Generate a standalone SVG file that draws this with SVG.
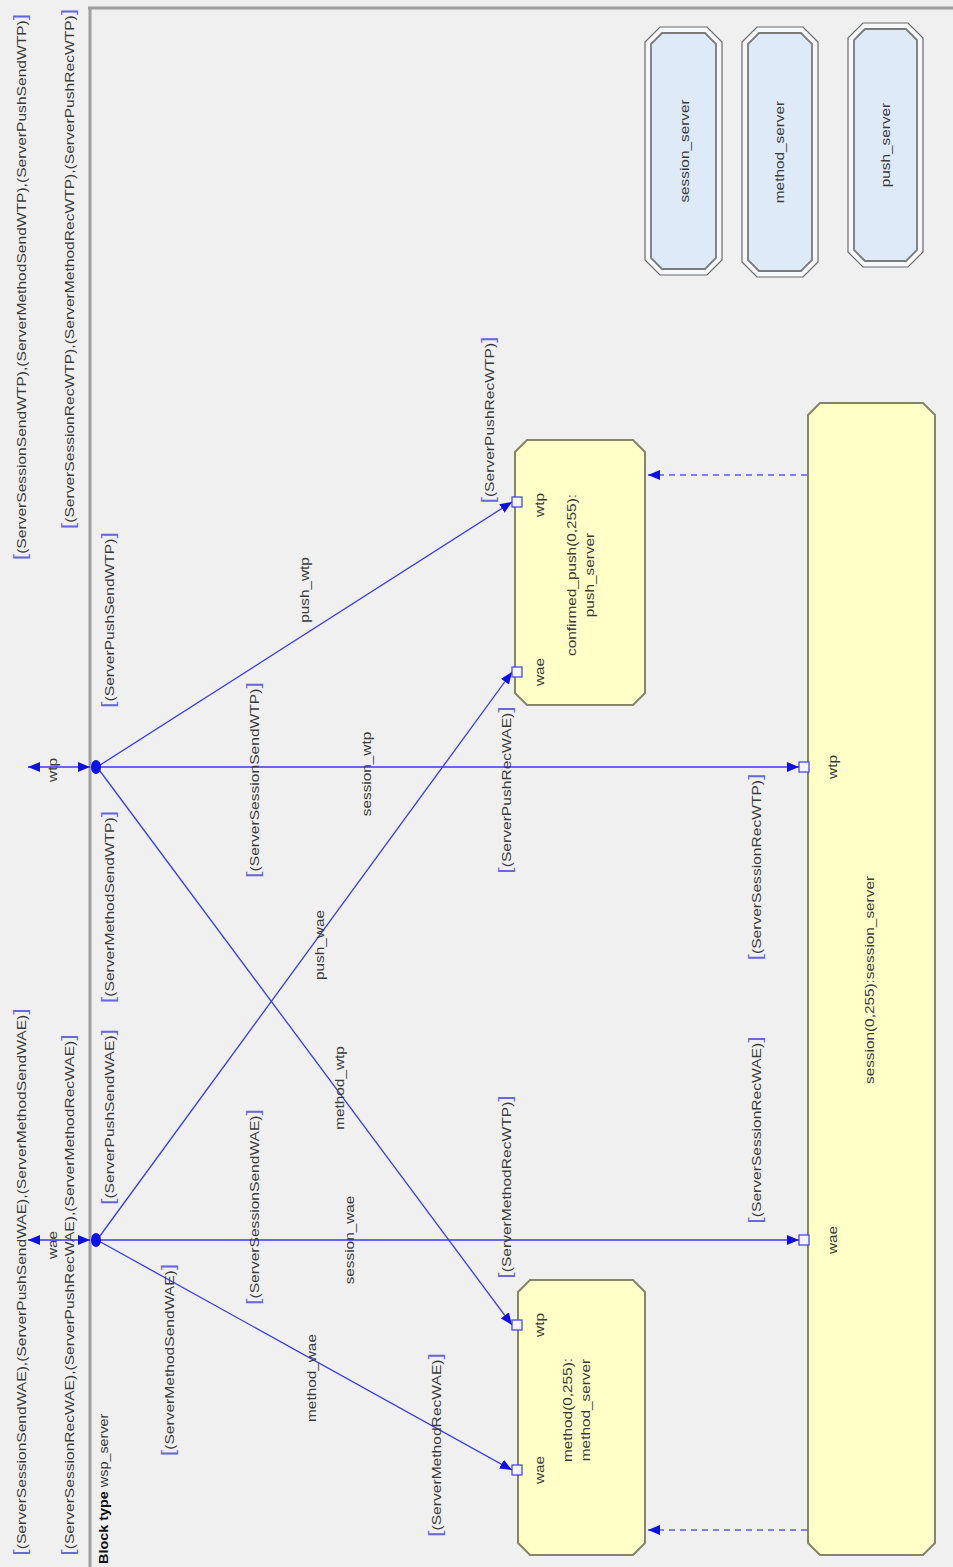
<svg xmlns="http://www.w3.org/2000/svg" width="953" height="1567" viewBox="0 0 953 1567">
<style>
  text { font-family: "Liberation Sans", Arial, sans-serif; font-size: 12px; fill: #3a3a3a; }
  .br { fill: #6868d8; font-size: 18px; }
  .bold { font-weight: bold; fill: #111; }
  .frame { stroke: #a0a0a0; stroke-width: 3; fill: none; }
  .ch { stroke: #3a3af0; stroke-width: 1.3; fill: none; }
  .create { stroke: #5a5af0; stroke-width: 1.5; stroke-dasharray: 6 5; fill: none; }
  .blk { fill: #ffffc8; stroke: #85856a; stroke-width: 2; }
  .ref-out { fill: #f6f8fb; stroke: #6a6a6a; stroke-width: 1.2; }
  .ref-in { fill: #dfeaf9; stroke: #7a7a7a; stroke-width: 1.8; }
  .port { fill: #f4f4ff; stroke: #3a3af0; stroke-width: 1.2; }
  .dot { fill: #1010e8; }
</style>
<defs>
  <marker id="arr" viewBox="0 0 12 10" refX="12" refY="5" markerWidth="12" markerHeight="10" markerUnits="userSpaceOnUse" orient="auto-start-reverse">
    <path d="M0,0 L12,5 L0,10 Z" fill="#1010e0"/>
  </marker>
</defs>
<rect x="0" y="0" width="953" height="1567" fill="#f0f0f0"/>

<!-- drawing is laid out sideways: u runs along the block, v across it -->
<g transform="matrix(0 -1 1 0 0 1567)">

  <!-- block frame -->
  <g id="frame">
    <line class="frame" x1="-5" y1="90" x2="1559" y2="90"/>
    <line class="frame" x1="1559" y1="88" x2="1559" y2="960"/>
    <text transform="translate(3 108) scale(1.2 1)"><tspan class="bold">Block type</tspan> wsp_server</text>
  </g>

  <!-- gate signal lists outside the frame -->
  <g id="gate-labels">
    <text transform="translate(1280 26) scale(1.3 1)" text-anchor="middle"><tspan class="br">[</tspan>(ServerSessionSendWTP),(ServerMethodSendWTP),(ServerPushSendWTP)<tspan class="br">]</tspan></text>
    <text transform="translate(1298 74) scale(1.3 1)" text-anchor="middle"><tspan class="br">[</tspan>(ServerSessionRecWTP),(ServerMethodRecWTP),(ServerPushRecWTP)<tspan class="br">]</tspan></text>
    <text transform="translate(285 26) scale(1.3 1)" text-anchor="middle"><tspan class="br">[</tspan>(ServerSessionSendWAE),(ServerPushSendWAE),(ServerMethodSendWAE)<tspan class="br">]</tspan></text>
    <text transform="translate(272 74) scale(1.3 1)" text-anchor="middle"><tspan class="br">[</tspan>(ServerSessionRecWAE),(ServerPushRecWAE),(ServerMethodRecWAE)<tspan class="br">]</tspan></text>
    <text transform="translate(797 57) scale(1.28 1)" text-anchor="middle">wtp</text>
    <text transform="translate(322 57) scale(1.28 1)" text-anchor="middle">wae</text>
  </g>

  <!-- channels -->
  <g id="connectors">
    <line class="ch" x1="800" y1="28" x2="800" y2="90" marker-start="url(#arr)" marker-end="url(#arr)"/>
    <line class="ch" x1="327" y1="28" x2="327" y2="90" marker-start="url(#arr)" marker-end="url(#arr)"/>
    <line class="ch" x1="800" y1="97" x2="800" y2="799" marker-end="url(#arr)"/>
    <line class="ch" x1="327" y1="97" x2="327" y2="799" marker-end="url(#arr)"/>
    <line class="ch" x1="800" y1="97" x2="1065" y2="512" marker-end="url(#arr)"/>
    <line class="ch" x1="327" y1="97" x2="895" y2="512" marker-end="url(#arr)"/>
    <line class="ch" x1="800" y1="97" x2="242" y2="512" marker-end="url(#arr)"/>
    <line class="ch" x1="327" y1="97" x2="97" y2="512" marker-end="url(#arr)"/>
    <ellipse class="dot" cx="800" cy="96" rx="7" ry="5"/>
    <ellipse class="dot" cx="327" cy="96" rx="7" ry="5"/>
    <line class="create" x1="1092" y1="807" x2="1092" y2="648" marker-end="url(#arr)"/>
    <line class="create" x1="37" y1="807" x2="37" y2="648" marker-end="url(#arr)"/>

    <!-- channel names -->
    <text transform="translate(977 309) scale(1.28 1)" text-anchor="middle">push_wtp</text>
    <text transform="translate(793 371) scale(1.28 1)" text-anchor="middle">session_wtp</text>
    <text transform="translate(622 324) scale(1.28 1)" text-anchor="middle">push_wae</text>
    <text transform="translate(479 344) scale(1.28 1)" text-anchor="middle">method_wtp</text>
    <text transform="translate(327 354) scale(1.28 1)" text-anchor="middle">session_wae</text>
    <text transform="translate(189 316) scale(1.28 1)" text-anchor="middle">method_wae</text>

    <!-- signal lists on channels -->
    <text transform="translate(947 114) scale(1.3 1)" text-anchor="middle"><tspan class="br">[</tspan>(ServerPushSendWTP)<tspan class="br">]</tspan></text>
    <text transform="translate(660 114) scale(1.3 1)" text-anchor="middle"><tspan class="br">[</tspan>(ServerMethodSendWTP)<tspan class="br">]</tspan></text>
    <text transform="translate(450 114) scale(1.3 1)" text-anchor="middle"><tspan class="br">[</tspan>(ServerPushSendWAE)<tspan class="br">]</tspan></text>
    <text transform="translate(207 174) scale(1.3 1)" text-anchor="middle"><tspan class="br">[</tspan>(ServerMethodSendWAE)<tspan class="br">]</tspan></text>
    <text transform="translate(787 259) scale(1.3 1)" text-anchor="middle"><tspan class="br">[</tspan>(ServerSessionSendWTP)<tspan class="br">]</tspan></text>
    <text transform="translate(360 259) scale(1.3 1)" text-anchor="middle"><tspan class="br">[</tspan>(ServerSessionSendWAE)<tspan class="br">]</tspan></text>
    <text transform="translate(700 761) scale(1.3 1)" text-anchor="middle"><tspan class="br">[</tspan>(ServerSessionRecWTP)<tspan class="br">]</tspan></text>
    <text transform="translate(437 761) scale(1.3 1)" text-anchor="middle"><tspan class="br">[</tspan>(ServerSessionRecWAE)<tspan class="br">]</tspan></text>
    <text transform="translate(122 441) scale(1.3 1)" text-anchor="middle"><tspan class="br">[</tspan>(ServerMethodRecWAE)<tspan class="br">]</tspan></text>
    <text transform="translate(380 511) scale(1.3 1)" text-anchor="middle"><tspan class="br">[</tspan>(ServerMethodRecWTP)<tspan class="br">]</tspan></text>
    <text transform="translate(777 511) scale(1.3 1)" text-anchor="middle"><tspan class="br">[</tspan>(ServerPushRecWAE)<tspan class="br">]</tspan></text>
    <text transform="translate(1147 494) scale(1.3 1)" text-anchor="middle"><tspan class="br">[</tspan>(ServerPushRecWTP)<tspan class="br">]</tspan></text>
  </g>

  <!-- block instances -->
  <g id="push_server_block">
    <path class="blk" d="M874,515 L1115,515 L1127,527 L1127,633 L1115,645 L874,645 L862,633 L862,527 Z"/>
    <rect class="port" x="1060" y="512" width="10" height="10"/>
    <rect class="port" x="890" y="512" width="10" height="10"/>
    <text transform="translate(1062 544) scale(1.28 1)" text-anchor="middle">wtp</text>
    <text transform="translate(895 544) scale(1.28 1)" text-anchor="middle">wae</text>
    <text transform="translate(992 576) scale(1.28 1)" text-anchor="middle">confirmed_push(0,255):</text>
    <text transform="translate(992 594) scale(1.28 1)" text-anchor="middle">push_server</text>
  </g>

  <g id="method_server_block">
    <path class="blk" d="M24,518 L275,518 L287,530 L287,633 L275,645 L24,645 L12,633 L12,530 Z"/>
    <rect class="port" x="237" y="512" width="10" height="10"/>
    <rect class="port" x="92" y="512" width="10" height="10"/>
    <text transform="translate(242 544) scale(1.28 1)" text-anchor="middle">wtp</text>
    <text transform="translate(97 544) scale(1.28 1)" text-anchor="middle">wae</text>
    <text transform="translate(157 572) scale(1.28 1)" text-anchor="middle">method(0,255):</text>
    <text transform="translate(157 590) scale(1.28 1)" text-anchor="middle">method_server</text>
  </g>

  <g id="session_server_block">
    <path class="blk" d="M24,808 L1152,808 L1164,820 L1164,923 L1152,935 L24,935 L12,923 L12,820 Z"/>
    <rect class="port" x="795" y="799" width="10" height="10"/>
    <rect class="port" x="322" y="799" width="10" height="10"/>
    <text transform="translate(800 837) scale(1.28 1)" text-anchor="middle">wtp</text>
    <text transform="translate(327 837) scale(1.28 1)" text-anchor="middle">wae</text>
    <text transform="translate(587 874) scale(1.28 1)" text-anchor="middle">session(0,255):session_server</text>
  </g>

  <!-- process type references -->
  <g id="ref_session_server">
    <path class="ref-out" d="M1307,645 L1525,645 L1540,660 L1540,707 L1525,722 L1307,722 L1292,707 L1292,660 Z"/>
    <path class="ref-in" d="M1309,651 L1523,651 L1534,662 L1534,705 L1523,716 L1309,716 L1298,705 L1298,662 Z"/>
    <text transform="translate(1416 689) scale(1.28 1)" text-anchor="middle">session_server</text>
  </g>
  <g id="ref_method_server">
    <path class="ref-out" d="M1305,742 L1525,742 L1540,757 L1540,803 L1525,818 L1305,818 L1290,803 L1290,757 Z"/>
    <path class="ref-in" d="M1307,748 L1523,748 L1534,759 L1534,801 L1523,812 L1307,812 L1296,801 L1296,759 Z"/>
    <text transform="translate(1415 784) scale(1.28 1)" text-anchor="middle">method_server</text>
  </g>
  <g id="ref_push_server">
    <path class="ref-out" d="M1315,848 L1529,848 L1544,863 L1544,908 L1529,923 L1315,923 L1300,908 L1300,863 Z"/>
    <path class="ref-in" d="M1317,854 L1527,854 L1538,865 L1538,906 L1527,917 L1317,917 L1306,906 L1306,865 Z"/>
    <text transform="translate(1422 890) scale(1.28 1)" text-anchor="middle">push_server</text>
  </g>
</g>
</svg>
